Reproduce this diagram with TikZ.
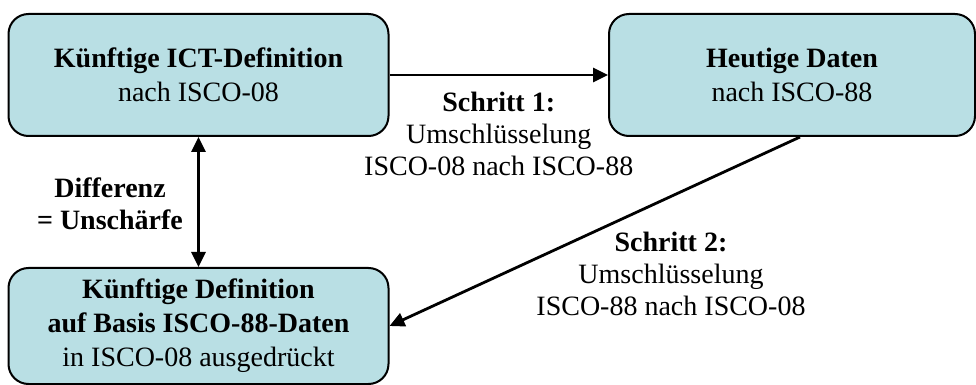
\documentclass[tikz,border=0pt]{standalone}
\usepackage{fontspec}
\setmainfont{Liberation Serif}
\usepackage{tikz}
\usetikzlibrary{arrows.meta, calc, positioning}
\definecolor{boxfill}{RGB}{185,223,228}
\tikzstyle{stepbox}   = [rectangle,rounded corners=10pt,draw=black,line width=1pt,fill=boxfill,align=center,inner sep=0pt,font=\fontsize{14}{17}\selectfont]
\tikzstyle{steplabel} = [align=center,inner sep=1pt,font=\fontsize{14}{16}\selectfont]
\tikzstyle{flow}      = [line width=1.4pt,-{Triangle[length=7.5pt,width=7pt]}]
\tikzstyle{twoway}    = [line width=1.4pt,{Triangle[length=7.5pt,width=7pt]}-{Triangle[length=7.5pt,width=7pt]}]

\begin{document}
\begin{tikzpicture}[x=0.5pt,y=-0.5pt]
        \useasboundingbox (0,0) rectangle (976,385);

        \node[stepbox,minimum width=190pt,minimum height=61pt] (ict)   at (198.5,75)  {\textbf{Künftige ICT-Definition}\\nach ISCO-08};
        \node[stepbox,minimum width=183pt,minimum height=61pt] (daten) at (792,75)    {\textbf{Heutige Daten}\\nach ISCO-88};
        \node[stepbox,minimum width=190pt,minimum height=58pt] (basis) at (198.5,326) {\textbf{Künftige Definition}\\\textbf{auf Basis ISCO-88-Daten}\\in ISCO-08 ausgedrückt};

        \draw[flow]   (ict) -- (daten);
        \draw[flow]   ($(daten.south)+(8,0)$) -- (basis.east);
        \draw[twoway] (ict) -- (basis);

        \node[steplabel] (schritt 1) at ($(ict.east)!0.5!(daten.west)+(0,59)$) {\textbf{Schritt 1:}\\Umschlüsselung\\ISCO-08 nach ISCO-88};
        \node[steplabel] (schritt 2) at (671,274)                              {\textbf{Schritt 2:}\\Umschlüsselung\\ISCO-88 nach ISCO-08};
        \node[steplabel] (differenz) at (110,204)                              {\textbf{Differenz}\\\textbf{= Unschärfe}};
    \end{tikzpicture}
\end{document}
